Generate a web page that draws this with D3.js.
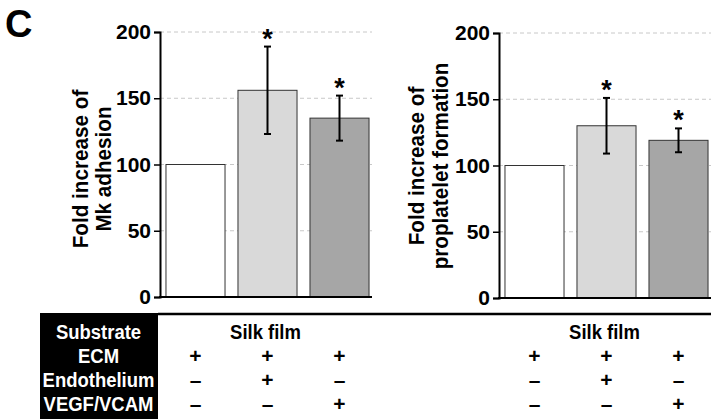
<!DOCTYPE html>
<html>
<head>
<meta charset="utf-8">
<script src="https://cdn.jsdelivr.net/npm/d3@7"></script>
<style>
  body { margin: 0; background: #fff; }
  text { font-family: "Liberation Sans", Arial, sans-serif; font-weight: bold; }
</style>
</head>
<body>
<div id="vis-container"></div>
<script>
// values
var groups = ["base", "endo", "vegf"];
var adhesionMean = [100, 156, 135];
var adhesionErr = [0, 33, 17];
var proplateletMean = [100, 130, 119];
var proplateletErr = [0, 21, 9];
var significant = [false, true, true];
var barFills = ["#ffffff", "#d9d9d9", "#a6a6a6"];
var yTicks = [0, 50, 100, 150, 200];
var rowLabels = ["Substrate", "ECM", "Endothelium", "VEGF/VCAM"];
var substrate = "Silk film";
var ecmRow = ["+", "+", "+"];
var endoRow = ["\u2013", "+", "\u2013"];
var vegfRow = ["\u2013", "\u2013", "+"];

var W = 711, H = 419;
var svg = d3.select("#vis-container").append("svg")
    .attr("width", W)
    .attr("height", H);

// panel letter
svg.append("text")
    .attr("x", 5).attr("y", 37)
    .style("font-size", "38px")
    .text("C");

var panels = [
    {x0: 160, x1: 375, yTop: 32, yBot: 297, axisEnd: 372, gridEnd: 372,
     mean: adhesionMean, err: adhesionErr,
     label: ["Fold increase of", "Mk adhesion"], labelX: [88, 111], labelY: 169},
    {x0: 499, x1: 714, yTop: 33, yBot: 298, axisEnd: 711, gridEnd: 711,
     mean: proplateletMean, err: proplateletErr,
     label: ["Fold increase of", "proplatelet formation"], labelX: [424, 448], labelY: 166}
];

panels.forEach(function(p) {
    var x = d3.scaleBand()
        .domain(groups)
        .range([p.x0, p.x1])
        .paddingInner(0.18)
        .paddingOuter(0.083);
    var y = d3.scaleLinear()
        .domain([0, 200])
        .range([p.yBot, p.yTop]);
    p.x = x;

    // dashed grid
    svg.append("g").selectAll("line")
        .data(yTicks.slice(1))
        .enter().append("line")
        .attr("x1", p.x0).attr("x2", p.gridEnd)
        .attr("y1", function(d) { return y(d); })
        .attr("y2", function(d) { return y(d); })
        .attr("stroke", "#c8c8c8")
        .attr("stroke-width", 1)
        .attr("stroke-dasharray", "4,3");

    // bars
    svg.append("g").selectAll("rect")
        .data(p.mean)
        .enter().append("rect")
        .attr("x", function(d, i) { return x(groups[i]); })
        .attr("width", x.bandwidth())
        .attr("y", function(d) { return y(d); })
        .attr("height", function(d) { return y(0) - y(d); })
        .attr("fill", function(d, i) { return barFills[i]; })
        .attr("stroke", "#333")
        .attr("stroke-width", 1);

    // error bars
    var eb = svg.append("g").selectAll("g")
        .data(p.mean.map(function(m, i) { return {m: m, e: p.err[i], i: i}; })
            .filter(function(d) { return d.e > 0; }))
        .enter().append("g")
        .attr("stroke", "#000")
        .attr("stroke-width", 2);
    eb.append("line")
        .attr("x1", function(d) { return x(groups[d.i]) + x.bandwidth() / 2; })
        .attr("x2", function(d) { return x(groups[d.i]) + x.bandwidth() / 2; })
        .attr("y1", function(d) { return y(d.m + d.e); })
        .attr("y2", function(d) { return y(d.m - d.e); });
    [1, -1].forEach(function(s) {
        eb.append("line")
            .attr("x1", function(d) { return x(groups[d.i]) + x.bandwidth() / 2 - 3.5; })
            .attr("x2", function(d) { return x(groups[d.i]) + x.bandwidth() / 2 + 3.5; })
            .attr("y1", function(d) { return y(d.m + s * d.e); })
            .attr("y2", function(d) { return y(d.m + s * d.e); });
    });

    // asterisks
    svg.append("g").selectAll("text")
        .data(p.mean.map(function(m, i) { return {m: m, e: p.err[i], i: i}; })
            .filter(function(d) { return significant[d.i]; }))
        .enter().append("text")
        .attr("x", function(d) { return x(groups[d.i]) + x.bandwidth() / 2; })
        .attr("y", function(d) { return y(d.m + d.e) + 1; })
        .attr("text-anchor", "middle")
        .style("font-size", "27px")
        .text("*");

    // y axis
    var ax = svg.append("g")
        .attr("transform", "translate(" + p.x0 + ",0)")
        .call(d3.axisLeft(y).tickValues(yTicks).tickSizeOuter(0).tickSize(6).tickPadding(3));
    ax.select(".domain").attr("stroke-width", 2);
    ax.selectAll(".tick line").attr("stroke-width", 1.5);
    ax.selectAll(".tick text")
        .style("font-size", "21px")
        .style("font-family", "'Liberation Sans', Arial, sans-serif")
        .style("font-weight", "bold")
        .attr("fill", "#000");

    // x axis baseline
    svg.append("line")
        .attr("x1", p.x0 - 1).attr("x2", p.axisEnd)
        .attr("y1", y(0)).attr("y2", y(0))
        .attr("stroke", "#000").attr("stroke-width", 2);

    // y label (slightly condensed like the original face)
    p.label.forEach(function(t, k) {
        svg.append("text")
            .attr("transform", "translate(" + p.labelX[k] + "," + p.labelY + ") rotate(-90) scale(0.94,1)")
            .attr("text-anchor", "middle")
            .style("font-size", "22px")
            .text(t);
    });
});

// condition table
var rowY = [339, 362.5, 386.5, 411];
svg.append("rect")
    .attr("x", 40).attr("y", 313)
    .attr("width", 118).attr("height", H - 313)
    .attr("fill", "#000");
svg.append("line")
    .attr("x1", 158).attr("x2", W)
    .attr("y1", 314).attr("y2", 314)
    .attr("stroke", "#000").attr("stroke-width", 2.5);

svg.append("g").selectAll("text")
    .data(rowLabels)
    .enter().append("text")
    .attr("transform", function(d, i) { return "translate(98.5," + rowY[i] + ") scale(0.88,1)"; })
    .attr("text-anchor", "middle")
    .attr("fill", "#fff")
    .style("font-size", "21px")
    .text(function(d) { return d; });

panels.forEach(function(p) {
    var cx = function(i) { return p.x(groups[i]) + p.x.bandwidth() / 2; };
    svg.append("text")
        .attr("transform", "translate(" + (cx(1) - 2) + "," + rowY[0] + ") scale(0.88,1)")
        .attr("text-anchor", "middle")
        .style("font-size", "21px")
        .text(substrate);
    [ecmRow, endoRow, vegfRow].forEach(function(row, r) {
        svg.append("g").selectAll("text")
            .data(row)
            .enter().append("text")
            .attr("x", function(d, i) { return cx(i); })
            .attr("y", rowY[r + 1])
            .attr("text-anchor", "middle")
            .style("font-size", "21px")
            .text(function(d) { return d; });
    });
});
</script>
</body>
</html>
